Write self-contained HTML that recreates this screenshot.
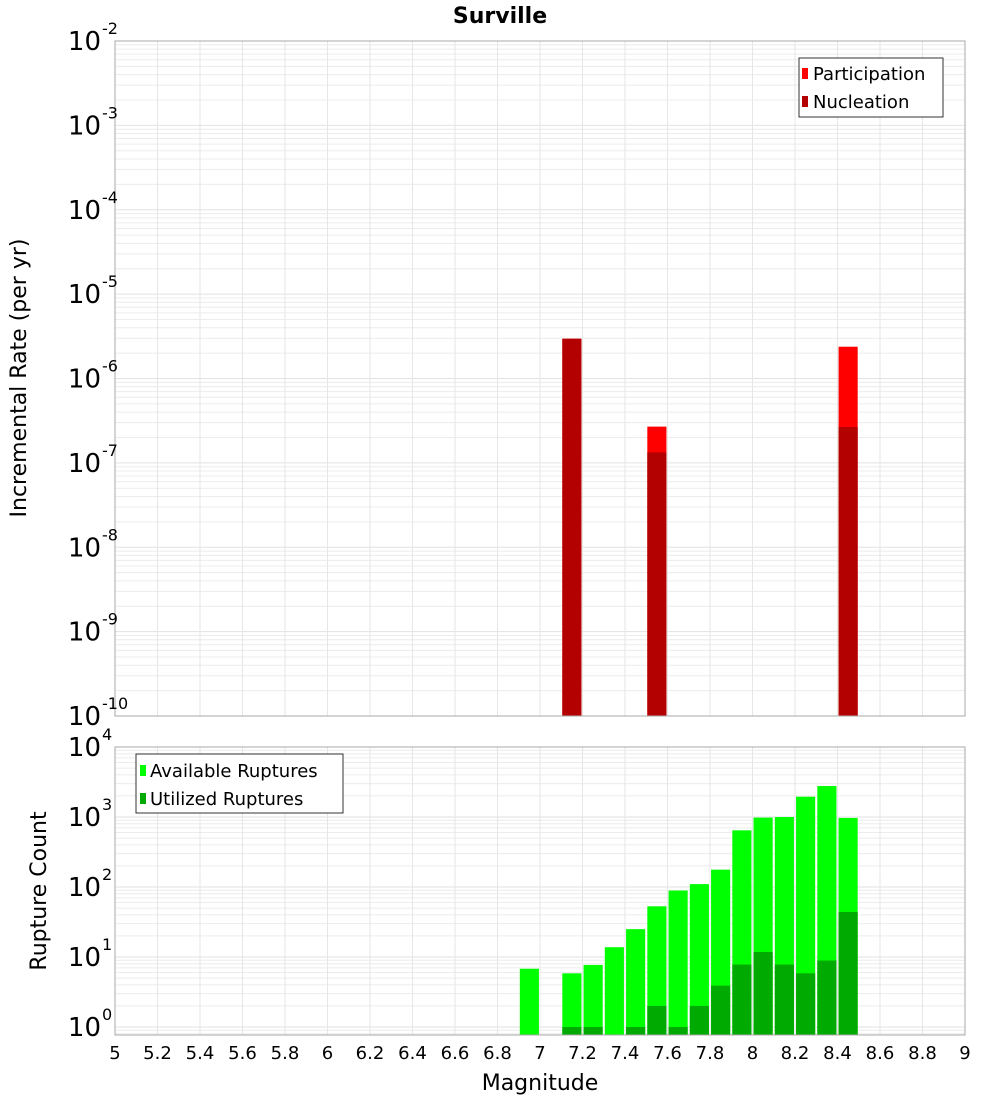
<!DOCTYPE html>
<html><head><meta charset="utf-8"><style>
body{margin:0;background:#fff;}
svg{font-family:"Liberation Sans","DejaVu Sans",sans-serif;}
</style></head><body>
<svg id="chart" width="1000" height="1100" xmlns="http://www.w3.org/2000/svg">
<text x="500" y="23" text-anchor="middle" font-size="22" font-weight="bold" font-family="DejaVu Sans, sans-serif">Surville</text>
<g id="grid"></g>
<g id="bars"></g>
<g id="axes"></g>
<text transform="translate(26,378) rotate(-90)" text-anchor="middle" font-size="22" font-family="DejaVu Sans, sans-serif">Incremental Rate (per yr)</text>
<text transform="translate(46,891) rotate(-90)" text-anchor="middle" font-size="22" font-family="DejaVu Sans, sans-serif">Rupture Count</text>
<text x="540" y="1090" text-anchor="middle" font-size="22" font-family="DejaVu Sans, sans-serif">Magnitude</text>
<g>
<rect x="799" y="58" width="144" height="59" fill="#fff" stroke="#333" stroke-width="1"/>
<rect x="802" y="68" width="6" height="11" fill="#ff0000"/>
<text x="813" y="80" font-size="18" font-family="DejaVu Sans, sans-serif">Participation</text>
<rect x="802" y="96" width="6" height="11" fill="#b30000"/>
<text x="813" y="108" font-size="18" font-family="DejaVu Sans, sans-serif">Nucleation</text>
</g>
<g>
<rect x="136" y="754" width="207" height="59" fill="#fff" stroke="#333" stroke-width="1"/>
<rect x="140" y="765" width="6" height="11" fill="#00ff00"/>
<text x="150" y="777" font-size="18" font-family="DejaVu Sans, sans-serif">Available Ruptures</text>
<rect x="140" y="793" width="6" height="11" fill="#00aa00"/>
<text x="150" y="805" font-size="18" font-family="DejaVu Sans, sans-serif">Utilized Ruptures</text>
</g>
</svg>
<script>
const NS="http://www.w3.org/2000/svg";
// data
const topMags=[7.15,7.55,8.45];
const participation=[2.96e-6,2.69e-7,2.38e-6];
const nucleation=[2.96e-6,1.33e-7,2.66e-7];
const botMags=[6.95,7.15,7.25,7.35,7.45,7.55,7.65,7.75,7.85,7.95,8.05,8.15,8.25,8.35,8.45];
const available=[6.8,5.85,7.7,13.8,25,53,89,110,177,645,980,1000,1950,2770,970];
const utilized=[0,1,1,0,1,2,1,2,3.9,7.8,11.8,7.8,5.85,8.9,44];
const xTicks=["5","5.2","5.4","5.6","5.8","6","6.2","6.4","6.6","6.8","7","7.2","7.4","7.6","7.8","8","8.2","8.4","8.6","8.9".replace("8.9","8.8"),"9"];
const topExps=[-2,-3,-4,-5,-6,-7,-8,-9,-10];
const botExps=[4,3,2,1,0];

const L=115,R=965;
const x=m=>L+(m-5)*(R-L)/4;
const T1=41,B1=716;
const yTop=v=>T1+(-2-Math.log10(v))*(B1-T1)/8;
const T2=747,B2=1035,DEC2=70;
const yBot=v=>T2+(4-Math.log10(v))*DEC2;
const minBot=Math.pow(10,4-(B2-T2)/DEC2);

function el(tag,attrs,parent){const e=document.createElementNS(NS,tag);for(const k in attrs)e.setAttribute(k,attrs[k]);parent.appendChild(e);return e;}
const grid=document.getElementById('grid'),bars=document.getElementById('bars'),axes=document.getElementById('axes');

// panels background grids
function hgrid(yf,lo,hi,top,bot){
  for(let e=lo;e<=hi;e++)for(let k=1;k<10;k++){const v=k*Math.pow(10,e);const yy=yf(v);if(yy<top-0.5||yy>bot+0.5)continue;
    el('line',{x1:L,x2:R,y1:yy,y2:yy,stroke:k==1?'#e2e2e2':'#ececec','stroke-width':1},grid);}
}
hgrid(yTop,-10,-3,T1,B1);
hgrid(yBot,-1,3,T2,B2);
for(let i=0;i<=20;i++){const xx=x(5+i*0.2);
  el('line',{x1:xx,x2:xx,y1:T1,y2:B1,stroke:'#e6e6e6'},grid);
  el('line',{x1:xx,x2:xx,y1:T2,y2:B2,stroke:'#e6e6e6'},grid);}

// top bars
const bw=0.09;
topMags.forEach((m,i)=>{
  const r=el('rect',{x:x(m-bw/2),y:yTop(participation[i]),width:x(m+bw/2)-x(m-bw/2),height:B1-yTop(participation[i]),fill:'#ff0000'},bars);
  
  
  const n=el('rect',{x:x(m-bw/2),y:yTop(nucleation[i]),width:x(m+bw/2)-x(m-bw/2),height:B1-yTop(nucleation[i]),fill:'#b30000'},bars);
  
  
});
// bottom bars
botMags.forEach((m,i)=>{
  if(available[i]>0){const y0=Math.max(T2,yBot(available[i]));
  const r=el('rect',{x:x(m-bw/2),y:y0,width:x(m+bw/2)-x(m-bw/2),height:B2-y0,fill:'#00ff00'},bars);
  
  }
  if(utilized[i]>0){const y1=yBot(utilized[i]);
  const u=el('rect',{x:x(m-bw/2),y:y1,width:x(m+bw/2)-x(m-bw/2),height:B2-y1,fill:'#00aa00'},bars);
  
  }
});
// borders
el('rect',{x:L,y:T1,width:R-L,height:B1-T1,fill:'none',stroke:'#aaa'},axes);
el('rect',{x:L,y:T2,width:R-L,height:B2-T2,fill:'none',stroke:'#aaa'},axes);
// y labels
function ylab(yy,e,name){
  const t=el('text',{x:101,y:yy+9,'text-anchor':'end','font-size':26,'font-family':'DejaVu Sans, sans-serif'},axes);
  t.textContent='10';
  
  
  const s=el('text',{x:102,y:yy-7,'font-size':16,'font-family':'DejaVu Sans, sans-serif'},axes);
  s.textContent=String(e);
  
  
}
topExps.forEach(e=>ylab(yTop(Math.pow(10,e)),e,'top-y-tick-label'));
botExps.forEach(e=>ylab(yBot(Math.pow(10,e)),e,'bottom-y-tick-label'));
// x labels
xTicks.forEach(t=>{const tx=el('text',{x:x(parseFloat(t)),y:1059,'text-anchor':'middle','font-size':18,'font-family':'DejaVu Sans, sans-serif'},axes);
  tx.textContent=t;
  
  });
</script>
</body></html>
